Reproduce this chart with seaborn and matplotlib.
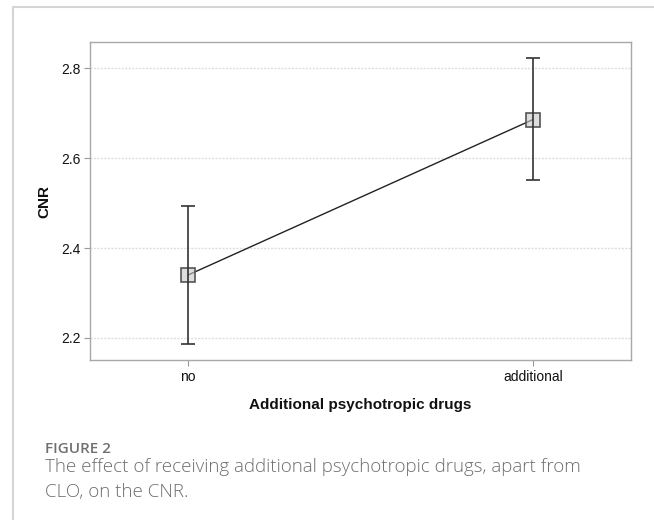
import pandas as pd
import seaborn as sns
import matplotlib.pyplot as plt
from matplotlib.lines import Line2D

# values
groups = ["no", "additional"]
cnr_mean = [2.340, 2.686]
ci_low = [2.186, 2.551]
ci_high = [2.494, 2.823]
y_ticks = [2.2, 2.4, 2.6, 2.8]

df = pd.DataFrame({"group": groups, "cnr": cnr_mean})

sns.set_theme(style="white")
plt.rcParams["font.family"] = ["Liberation Sans", "DejaVu Sans"]

fig = plt.figure(figsize=(6.54, 5.2), dpi=100)
ax = fig.add_axes([90 / 654, 1 - 360 / 520, (631 - 90) / 654, (360 - 42) / 520])

sns.pointplot(
    data=df, x="group", y="cnr", order=groups, errorbar=None,
    markers="s", linestyles="-", color="#222222", ax=ax,
)
ln = ax.lines[0]
ln.set_linewidth(1.0)
ln.set_markersize(9.5)
ln.set_markerfacecolor((0.78, 0.78, 0.78, 0.6))
ln.set_markeredgecolor("#555555")
ln.set_markeredgewidth(1.2)
ln.set_zorder(4)

yerr = [[m - lo for m, lo in zip(cnr_mean, ci_low)],
        [hi - m for m, hi in zip(cnr_mean, ci_high)]]
ax.errorbar(range(len(groups)), cnr_mean, yerr=yerr, fmt="none",
            ecolor="#333333", elinewidth=1.2, capsize=5, capthick=1.2, zorder=5)

ax.set_xlim(-0.284, 1.284)
ax.set_ylim(2.151, 2.8585)
ax.set_yticks(y_ticks)
ax.set_yticklabels([f"{t:.1f}" for t in y_ticks])

ax.yaxis.grid(True, linestyle=(0, (1.5, 1)), color="#dedede", linewidth=1)
ax.xaxis.grid(False)
ax.set_axisbelow(True)
for sp in ax.spines.values():
    sp.set_visible(True)
    sp.set_color("#a8a8a8")
    sp.set_linewidth(1.0)

ax.tick_params(bottom=True, left=True, length=4, width=0.8, color="#999999",
               labelsize=10, labelcolor="#111111", pad=3)
ax.set_xlabel("Additional psychotropic drugs", fontsize=11, fontweight="bold",
              color="#111111", labelpad=10)
ax.set_ylabel("CNR", fontsize=11, fontweight="bold", color="#111111", labelpad=7)

# card border (top and left)
fig.add_artist(Line2D([13 / 654, 1], [1 - 7 / 520, 1 - 7 / 520],
                      transform=fig.transFigure, color="#d5d5d5", lw=1.5))
fig.add_artist(Line2D([13 / 654, 13 / 654], [0, 1 - 7 / 520],
                      transform=fig.transFigure, color="#d5d5d5", lw=1.5))

cap_font = ["Open Sans", "DejaVu Sans"]
fig.text(45 / 654, 1 - 453 / 520, "FIGURE 2", family=cap_font, fontsize=11,
         fontweight="semibold", color="#707070", va="baseline")
fig.text(45 / 654, 1 - 472 / 520,
         "The effect of receiving additional psychotropic drugs, apart from",
         family=cap_font, fontsize=13.5, fontweight="light", color="#6e6e6e", va="baseline")
fig.text(45 / 654, 1 - 497 / 520, "CLO, on the CNR.",
         family=cap_font, fontsize=13.5, fontweight="light", color="#6e6e6e", va="baseline")

fig.savefig("out.png", dpi=100)
